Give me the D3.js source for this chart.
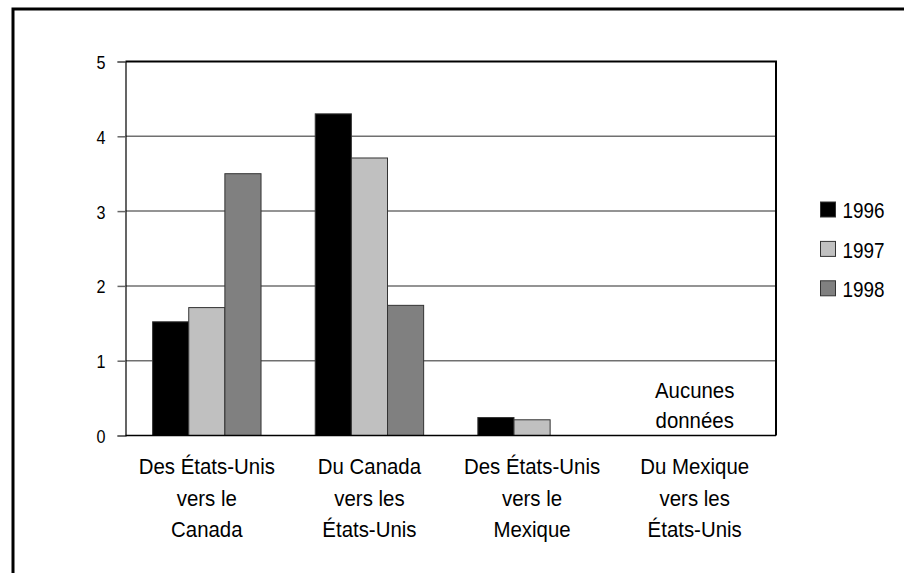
<!DOCTYPE html>
<html><head><meta charset="utf-8">
<script src="https://cdn.jsdelivr.net/npm/d3@7"></script>
<style>
html,body{margin:0;padding:0;background:#fff;}
svg{display:block;}
text{font-family:"Liberation Sans",Arial,sans-serif;fill:#000;}
</style></head><body>
<svg id="chart" width="904" height="573"></svg>
<script>
const categories = [
  ["Des États-Unis","vers le","Canada"],
  ["Du Canada","vers les","États-Unis"],
  ["Des États-Unis","vers le","Mexique"],
  ["Du Mexique","vers les","États-Unis"]
];
const years = ["1996","1997","1998"];
const v1996 = [1.52, 4.30, 0.24, null];
const v1997 = [1.71, 3.71, 0.21, null];
const v1998 = [3.50, 1.74, null, null];
const yTicks = [0,1,2,3,4,5];
const noDataLabel = ["Aucunes","données"];
const colors = ["#000000","#c0c0c0","#808080"];

const series = [v1996, v1997, v1998];
const svg = d3.select("#chart");

// outer frame (cropped)
svg.append("rect").attr("x",13).attr("y",9).attr("width",1000).attr("height",700)
  .attr("fill","none").attr("stroke","#000").attr("stroke-width",3);

const L = 125.5, R = 776, T = 61.5, B = 435.5;
const x = d3.scaleBand().domain(d3.range(categories.length)).range([L,R]).paddingInner(0).paddingOuter(0);
const y = d3.scaleLinear().domain([0,5]).range([B,T]);
const bw = x.bandwidth()/4.5;

// helper: condensed text
function ctext(g, tx, ty, str, size, sx, anchor){
  return g.append("text")
    .attr("transform",`translate(${tx},${ty}) scale(${sx},1)`)
    .attr("text-anchor",anchor||"middle")
    .attr("font-size",size)
    .style("font-size",size+"px").text(str);
}

// gridlines
svg.append("g").selectAll("line").data(yTicks.filter(d=>d>0&&d<5)).join("line")
  .attr("x1",L).attr("x2",R).attr("y1",d=>y(d)).attr("y2",d=>y(d))
  .attr("stroke","#707070").attr("stroke-width",1.5);

// bars
series.forEach((vals,si)=>{
  svg.append("g").selectAll("rect").data(vals.map((v,i)=>({v,i})).filter(d=>d.v!=null)).join("rect")
    .attr("x",d=>x(d.i)+x.bandwidth()/2 - 1.5*bw + si*bw)
    .attr("y",d=>y(d.v)).attr("width",bw).attr("height",d=>B-y(d.v))
    .attr("fill",colors[si]).attr("stroke","#333").attr("stroke-width",1);
});

// plot border top & right
svg.append("path").attr("d",`M${L},${T}H${R}V${B}`).attr("fill","none").attr("stroke","#000").attr("stroke-width",2);

// y axis (lines via d3.axis, labels drawn separately)
const yAxis = d3.axisLeft(y).tickValues(yTicks).tickSize(8).tickFormat("");
const ya = svg.append("g").attr("transform",`translate(${L},0)`).call(yAxis);
ya.select(".domain").attr("stroke","#000").attr("stroke-width",1.2);
ya.selectAll(".tick line").attr("stroke","#666").attr("stroke-width",1.5);
ya.selectAll(".tick text").remove();
const yl = svg.append("g");
yTicks.forEach(t=>{
  ctext(yl, 105.5, y(t)+7.5, d3.format("d")(t), 19, 0.85, "end");
});

// baseline
svg.append("line").attr("x1",L).attr("x2",R).attr("y1",B).attr("y2",B).attr("stroke","#000").attr("stroke-width",1.5);

// category labels
const cl = svg.append("g");
categories.forEach((lines,i)=>{
  lines.forEach((ln,j)=>{
    ctext(cl, x(i)+x.bandwidth()/2, 474.3+j*31.5, ln, 21.5, 0.95);
  });
});

// no data label
const nd = svg.append("g");
noDataLabel.forEach((ln,j)=>{
  ctext(nd, x(3)+x.bandwidth()/2, 398.3+j*30, ln, 21.5, 0.95);
});

// legend
const lg = svg.append("g");
years.forEach((yr,i)=>{
  const top = 202 + i*39.4;
  lg.append("rect").attr("x",820.5).attr("y",top).attr("width",15).attr("height",15)
    .attr("fill",colors[i]).attr("stroke","#333").attr("stroke-width",1);
  ctext(lg, 842.5, top+16.3, yr, 22, 0.86, "start");
});
</script>
</body></html>
